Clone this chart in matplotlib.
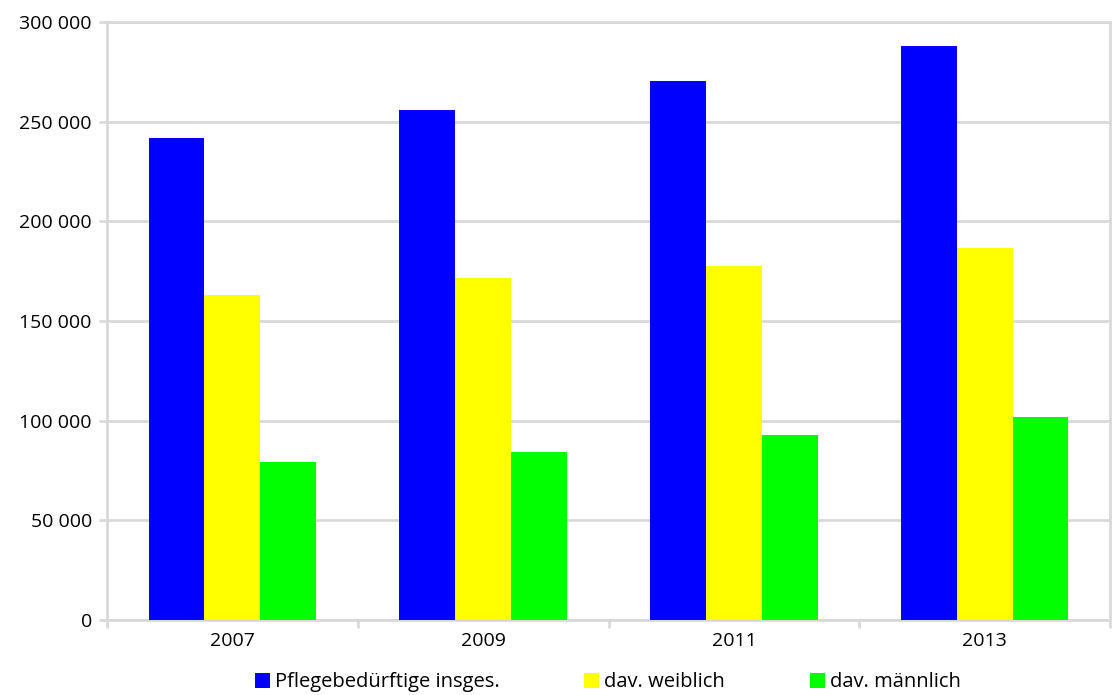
import numpy as np
import matplotlib
matplotlib.use("Agg")
import matplotlib.pyplot as plt
from matplotlib.ticker import FuncFormatter

years = ["2007", "2009", "2011", "2013"]
insgesamt = [242000, 256000, 270500, 288000]
weiblich = [163000, 171500, 177500, 186500]
maennlich = [79000, 84500, 93000, 102000]

labels = ["Pflegebedürftige insges.", "dav. weiblich", "dav. männlich"]
colors = ["#0000ff", "#ffff00", "#00ff00"]

plt.rcParams['font.family'] = ['Open Sans', 'DejaVu Sans']

fig = plt.figure(figsize=(11.15, 6.95), dpi=100)
ax = fig.add_axes([0.096, 0.108, 0.8995, 0.8603])

x = np.arange(len(years))
w = 0.223
for i, (vals, lab, col) in enumerate(zip([insgesamt, weiblich, maennlich], labels, colors)):
    ax.bar(x + (i - 1) * w, vals, width=w, color=col, label=lab, zorder=3)

grid_col = "#d9d9d9"
ax.set_ylim(0, 300000)
ax.set_yticks(np.arange(0, 300001, 50000))
ax.yaxis.set_major_formatter(FuncFormatter(lambda v, p: f"{int(v):,}".replace(",", " ")))
ax.yaxis.grid(True, color=grid_col, linewidth=2, zorder=0)

ax.set_xlim(-0.5, len(years) - 0.5)
ax.set_xticks(x)
ax.set_xticklabels(years)
ax.set_xticks(np.arange(-0.5, len(years), 1.0), minor=True)
ax.tick_params(axis='x', which='major', length=0, pad=9, labelsize=14)
ax.tick_params(axis='x', which='minor', length=6, width=2, color=grid_col)
ax.tick_params(axis='y', length=6, width=2, color=grid_col, labelsize=14, pad=5)

for s in ax.spines.values():
    s.set_color(grid_col)
    s.set_linewidth(2)

leg = fig.legend(loc='center', bbox_to_anchor=(0.545, 0.018), ncol=3, frameon=False,
                 fontsize=14.5, handlelength=0.75, handleheight=0.75, handletextpad=0.25,
                 columnspacing=4.2, borderpad=0)

fig.savefig("out.png", dpi=100)
